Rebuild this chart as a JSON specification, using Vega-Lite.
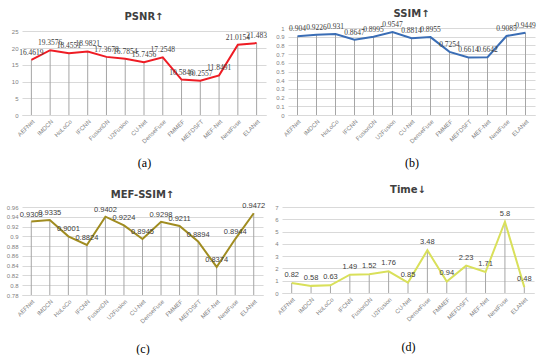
{
  "$schema": "https://vega.github.io/schema/vega-lite/v6.json",
  "background": "white",
  "padding": {"left": 6, "top": 8, "right": 5, "bottom": 0},
  "datasets": {
    "m": [
      {"method": "AEFNet", "psnr": 16.4619, "ssim": 0.904, "mefssim": 0.9303, "time": 0.82},
      {"method": "IMDCN", "psnr": 19.3576, "ssim": 0.9226, "mefssim": 0.9335, "time": 0.58},
      {"method": "HoLoCo", "psnr": 18.4551, "ssim": 0.931, "mefssim": 0.9001, "time": 0.63},
      {"method": "IFCNN", "psnr": 18.9821, "ssim": 0.8647, "mefssim": 0.8824, "time": 1.49},
      {"method": "FusionDN", "psnr": 17.3678, "ssim": 0.8995, "mefssim": 0.9402, "time": 1.52},
      {"method": "U2Fusion", "psnr": 16.7854, "ssim": 0.9547, "mefssim": 0.9224, "time": 1.76},
      {"method": "CU-Net", "psnr": 15.7456, "ssim": 0.8814, "mefssim": 0.8945, "time": 0.85},
      {"method": "DenseFuse", "psnr": 17.2548, "ssim": 0.8955, "mefssim": 0.9298, "time": 3.48},
      {"method": "FMMEF", "psnr": 10.5846, "ssim": 0.7254, "mefssim": 0.9211, "time": 0.94},
      {"method": "MEFDSFT", "psnr": 10.2557, "ssim": 0.6614, "mefssim": 0.8894, "time": 2.23},
      {"method": "MEF-Net", "psnr": 11.8491, "ssim": 0.6642, "mefssim": 0.8374, "time": 1.71},
      {"method": "NestFuse", "psnr": 21.0154, "ssim": 0.9085, "mefssim": 0.8944, "time": 5.8},
      {"method": "ELANet", "psnr": 21.483, "ssim": 0.9449, "mefssim": 0.9472, "time": 0.48}
    ]
  },
  "config": {
    "font": "Liberation Sans",
    "view": {"stroke": null},
    "title": {"fontSize": 10, "font": "DejaVu Sans", "fontWeight": "bold", "color": "#404040", "offset": 8},
    "axis": {
      "labelColor": "#7f7f7f",
      "labelFontSize": 6,
      "gridColor": "#d9d9d9",
      "domainColor": "#d9d9d9",
      "tickColor": "#d9d9d9",
      "titleFont": "Liberation Serif",
      "titleFontSize": 12,
      "titleFontWeight": "normal",
      "titleColor": "#000000"
    },
    "axisY": {"domain": false, "ticks": false, "labelPadding": 4, "labelOverlap": false, "tickCount": 20, "title": null},
    "axisX": {"grid": false, "labelAngle": -45, "ticks": false, "titlePadding": 10, "labelPadding": 3, "labelOverlap": false}
  },
  "spacing": 16,
  "vconcat": [
    {
      "bounds": "flush",
      "spacing": 22,
      "hconcat": [
        {
          "width": 244, "height": 87,
          "title": {"text": "PSNR↑", "offset": 6},
          "data": {"name": "m"},
          "encoding": {
            "x": {"field": "method", "type": "nominal", "sort": null, "axis": {"title": "(a)", "titlePadding": 14}}
          },
          "layer": [
            {"mark": {"type": "rule", "color": "#a6a6a6", "strokeWidth": 1},
             "encoding": {"y": {"field": "psnr", "type": "quantitative", "scale": {"domain": [0, 25]}, "axis": {"values": [0, 5, 10, 15, 20, 25], "tickCount": 20, "format": "d"}}, "y2": {"datum": 0}}},
            {"mark": {"type": "line", "color": "#ee1c24", "strokeWidth": 2},
             "encoding": {"y": {"field": "psnr", "type": "quantitative"}}},
            {"mark": {"type": "text", "dy": -7, "fontSize": 7.5, "font": "Liberation Serif", "color": "#404040"},
             "encoding": {"y": {"field": "psnr", "type": "quantitative"}, "text": {"field": "psnr", "type": "quantitative", "format": ""}}}
          ]
        },
        {
          "width": 247, "height": 87,
          "title": {"text": "SSIM↑", "offset": 2},
          "data": {"name": "m"},
          "encoding": {
            "x": {"field": "method", "type": "nominal", "sort": null, "axis": {"title": "(b)", "titlePadding": 14}}
          },
          "layer": [
            {"mark": {"type": "rule", "color": "#a6a6a6", "strokeWidth": 1},
             "encoding": {"y": {"field": "ssim", "type": "quantitative", "scale": {"domain": [0, 1]}, "axis": {"values": [0, 0.1, 0.2, 0.3, 0.4, 0.5, 0.6, 0.7, 0.8, 0.9, 1], "tickCount": 20, "format": ""}}, "y2": {"datum": 0}}},
            {"mark": {"type": "line", "color": "#3a6db5", "strokeWidth": 2},
             "encoding": {"y": {"field": "ssim", "type": "quantitative"}}},
            {"mark": {"type": "text", "dy": -7, "fontSize": 7.5, "font": "Liberation Serif", "color": "#404040"},
             "encoding": {"y": {"field": "ssim", "type": "quantitative"}, "text": {"field": "ssim", "type": "quantitative", "format": ""}}}
          ]
        }
      ]
    },
    {
      "bounds": "flush",
      "spacing": 19,
      "hconcat": [
        {
          "width": 241, "height": 88,
          "title": {"text": "MEF-SSIM↑", "offset": 2},
          "data": {"name": "m"},
          "encoding": {
            "x": {"field": "method", "type": "nominal", "sort": null, "axis": {"title": "(c)", "titlePadding": 20}}
          },
          "layer": [
            {"mark": {"type": "rule", "color": "#a6a6a6", "strokeWidth": 1},
             "encoding": {"y": {"field": "mefssim", "type": "quantitative", "scale": {"domain": [0.78, 0.96], "zero": false}, "axis": {"values": [0.78, 0.8, 0.82, 0.84, 0.86, 0.88, 0.9, 0.92, 0.94, 0.96], "tickCount": 20, "format": ""}}, "y2": {"datum": 0.78}}},
            {"mark": {"type": "line", "color": "#a08c20", "strokeWidth": 2},
             "encoding": {"y": {"field": "mefssim", "type": "quantitative"}}},
            {"mark": {"type": "text", "dy": -7, "fontSize": 7.5, "color": "#404040"},
             "encoding": {"y": {"field": "mefssim", "type": "quantitative"}, "text": {"field": "mefssim", "type": "quantitative", "format": ""}}}
          ]
        },
        {
          "width": 252, "height": 86,
          "title": {"text": "Time↓", "offset": 9},
          "data": {"name": "m"},
          "encoding": {
            "x": {"field": "method", "type": "nominal", "sort": null, "axis": {"title": "(d)", "titlePadding": 20}}
          },
          "layer": [
            {"mark": {"type": "rule", "color": "#a6a6a6", "strokeWidth": 1},
             "encoding": {"y": {"field": "time", "type": "quantitative", "scale": {"domain": [0, 7]}, "axis": {"values": [0, 1, 2, 3, 4, 5, 6, 7], "tickCount": 20, "format": "d"}}, "y2": {"datum": 0}}},
            {"mark": {"type": "line", "color": "#d9e05a", "strokeWidth": 2},
             "encoding": {"y": {"field": "time", "type": "quantitative"}}},
            {"mark": {"type": "text", "dy": -8, "fontSize": 7.5, "color": "#404040"},
             "encoding": {"y": {"field": "time", "type": "quantitative"}, "text": {"field": "time", "type": "quantitative", "format": ""}}}
          ]
        }
      ]
    }
  ]
}
